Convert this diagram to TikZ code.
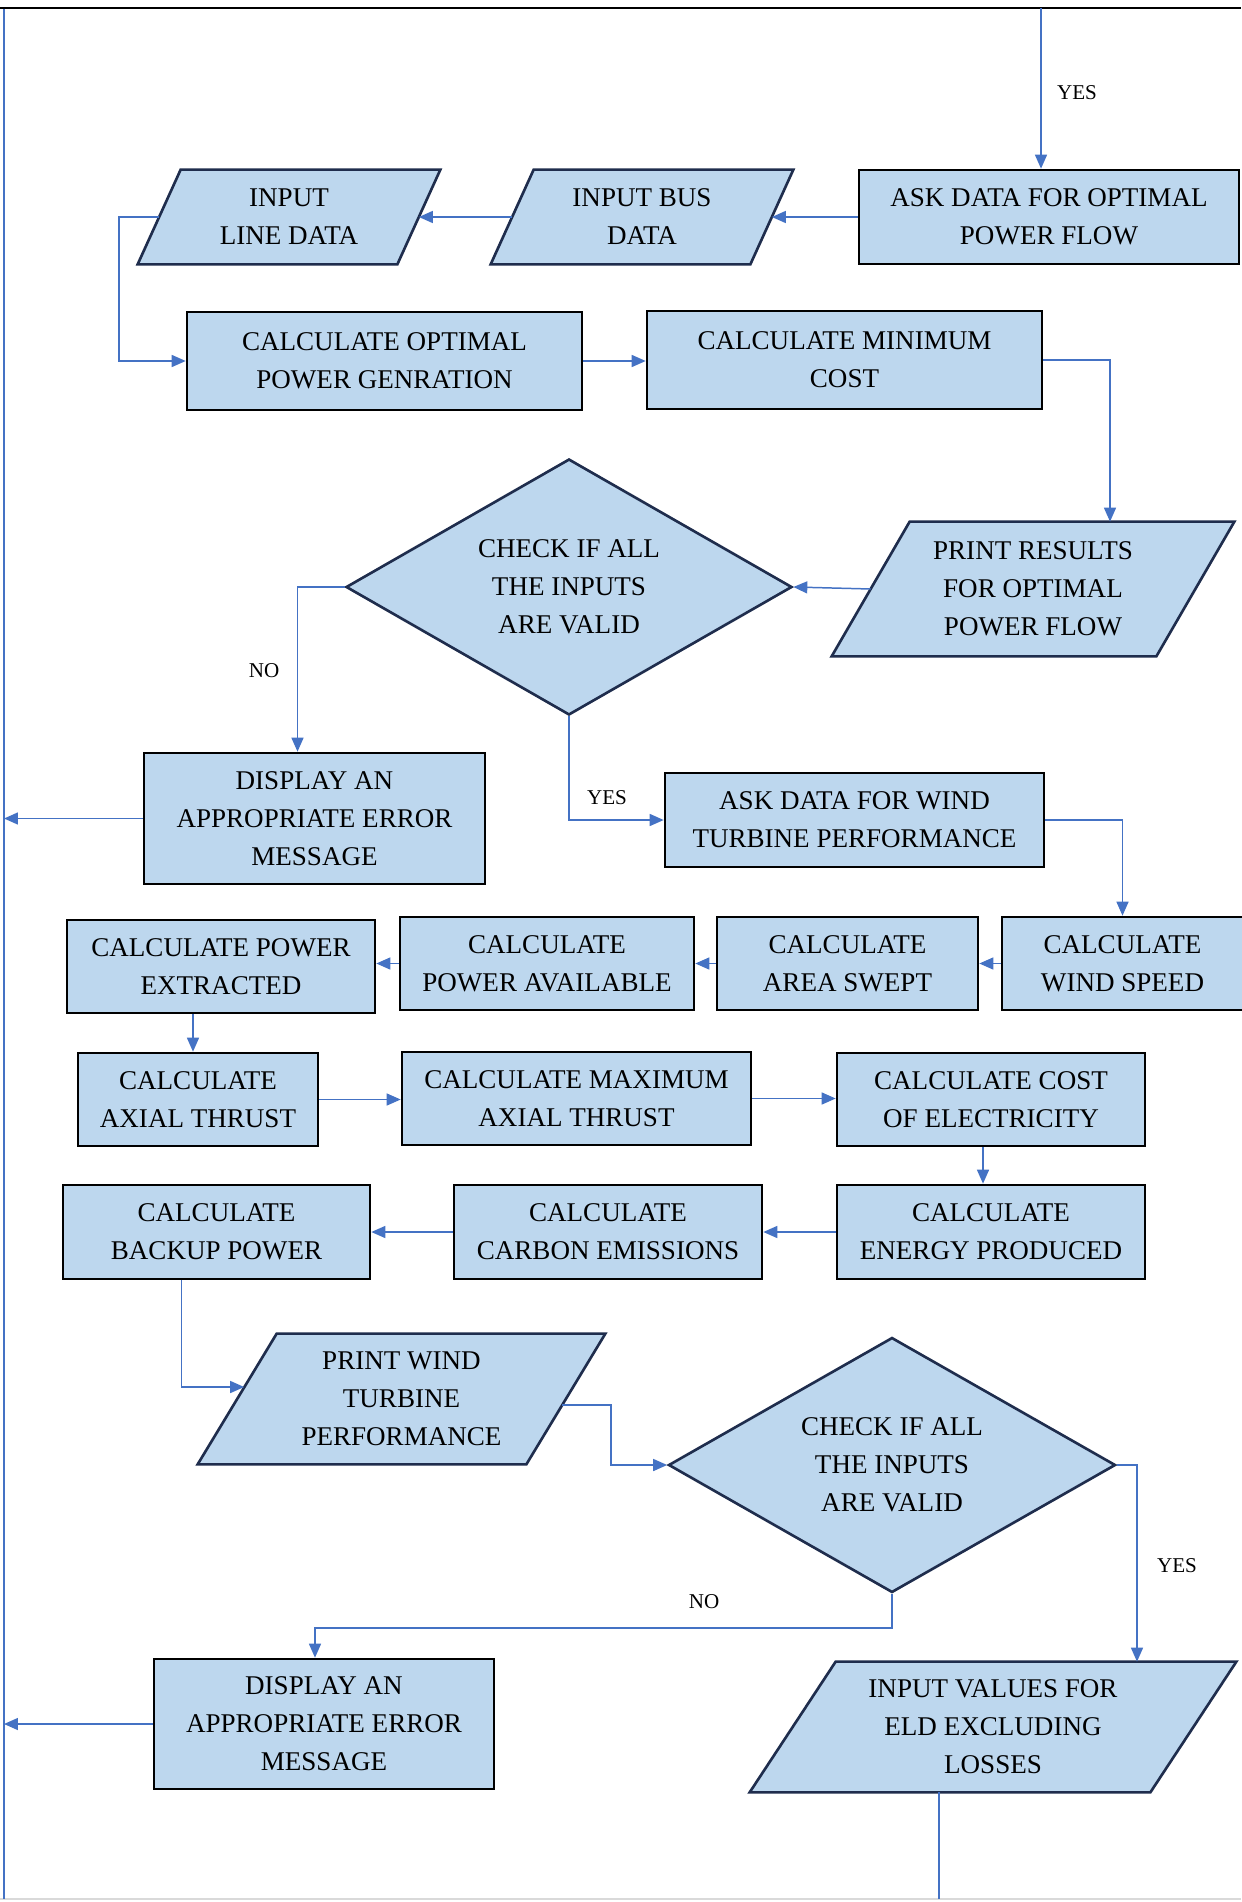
\documentclass[tikz,border=0pt]{standalone}
\usepackage{fontspec}
\setmainfont{Liberation Serif}
\usepackage{xcolor}
\usepackage{tikz}
\usetikzlibrary{shapes,arrows,arrows.meta,positioning,calc,backgrounds}
\definecolor{boxfill}{HTML}{BDD7EE}
\definecolor{boxedge}{HTML}{1F2D4D}
\definecolor{flowblue}{HTML}{4472C4}
\newcommand{\ioshape}[2]{%
  \filldraw[ioline] ($(#1.south west)+(-#2/2,0)$) -- ($(#1.north west)+(#2/2,0)$)
    -- ($(#1.north east)+(#2/2,0)$) -- ($(#1.south east)+(-#2/2,0)$) -- cycle;}

\begin{document}
\begin{tikzpicture}[
    x=0.02cm, y=-0.02cm,
    font=\fontsize{15.4}{21.7}\selectfont,
    sz/.style 2 args={minimum width=#1*0.02cm, minimum height=#2*0.02cm},
    box/.style={rectangle, draw=black, fill=boxfill, line width=1.5pt, inner sep=0pt, align=center},
    io/.style={rectangle, inner sep=0pt, align=center},
    ioline/.style={draw=boxedge, fill=boxfill, line width=1.5pt},
    decision/.style={diamond, aspect=1.74, draw=boxedge, fill=boxfill, line width=1.5pt, inner sep=0pt, align=center},
    arrow/.style={-{Triangle[length=0.28cm, width=0.24cm]}, draw=flowblue, line width=0.85pt},
    flow/.style={draw=flowblue, line width=0.85pt},
    lbl/.style={font=\fontsize{12}{14}\selectfont}
]
    \useasboundingbox (0,0) rectangle (1241,1902);

    \coordinate (tl) at (0,8);
    \coordinate (tr) at (1241,8);
    \coordinate (ltop) at (4,8);
    \coordinate (lbot) at (4,1899);
    \coordinate (bl) at (0,1899);
    \coordinate (br) at (1241,1899);
    \coordinate (start) at (1041,8);

    \draw[gray!30, line width=0.05cm] (bl) -- (br);
    \draw[flow] (ltop) -- (lbot);
    \draw[black, line width=0.054cm] (tl) -- (tr);

    \node[box, sz={380}{94}] (ask1) at (1049,217) {ASK DATA FOR OPTIMAL\\POWER FLOW};
    \node[io, sz={259}{94}] (bus) at (642,217) {INPUT BUS\\DATA};
    \node[io, sz={259}{94}] (line) at (289,217) {INPUT\\LINE DATA};
    \node[box, sz={395}{98}] (optgen) at (384.5,361) {CALCULATE OPTIMAL\\POWER GENRATION};
    \node[box, sz={395}{98}] (mincost) at (844.5,360) {CALCULATE MINIMUM\\COST};
    \node[decision, sz={446}{256}] (chk1) at (569,587) {CHECK IF ALL\\THE INPUTS\\ARE VALID};
    \node[io, sz={324}{134}] (print1) at (1033,589) {PRINT RESULTS\\FOR OPTIMAL\\POWER FLOW};
    \node[box, sz={341}{131}] (err1) at (314.5,818.5) {DISPLAY AN\\APPROPRIATE ERROR\\MESSAGE};
    \node[box, sz={379}{94}] (ask2) at (854.5,820) {ASK DATA FOR WIND\\TURBINE PERFORMANCE};
    \node[box, sz={241}{93}] (speed) at (1122.5,963.5) {CALCULATE\\WIND SPEED};
    \node[box, sz={261}{93}] (swept) at (847.5,963.5) {CALCULATE\\AREA SWEPT};
    \node[box, sz={294}{93}] (avail) at (547,963.5) {CALCULATE\\POWER AVAILABLE};
    \node[box, sz={308}{93}] (extr) at (221,966.5) {CALCULATE POWER\\EXTRACTED};
    \node[box, sz={240}{93}] (axial) at (198,1099.5) {CALCULATE\\AXIAL THRUST};
    \node[box, sz={349}{93}] (maxax) at (576.5,1098.5) {CALCULATE MAXIMUM\\AXIAL THRUST};
    \node[box, sz={308}{93}] (cost) at (991,1099.5) {CALCULATE COST\\OF ELECTRICITY};
    \node[box, sz={308}{94}] (energy) at (991,1232) {CALCULATE\\ENERGY PRODUCED};
    \node[box, sz={308}{94}] (carbon) at (608,1232) {CALCULATE\\CARBON EMISSIONS};
    \node[box, sz={307}{94}] (backup) at (216.5,1232) {CALCULATE\\BACKUP POWER};
    \node[io, sz={328}{130}] (print2) at (401.5,1399) {PRINT WIND\\TURBINE\\PERFORMANCE};
    \node[decision, sz={447}{255}] (chk2) at (892,1465) {CHECK IF ALL\\THE INPUTS\\ARE VALID};
    \node[box, sz={340}{130}] (err2) at (324,1724) {DISPLAY AN\\APPROPRIATE ERROR\\MESSAGE};
    \node[io, sz={400}{130}] (eld) at (993,1727) {INPUT VALUES FOR\\ELD EXCLUDING\\LOSSES};

    \begin{scope}[on background layer]
        \ioshape{bus}{43}
        \ioshape{line}{43}
        \ioshape{print1}{78}
        \ioshape{print2}{79}
        \ioshape{eld}{86}
    \end{scope}

    \node[lbl] (yes1) at (1077,93) {YES};
    \node[lbl] (no1) at (264,671) {NO};
    \node[lbl] (yes2) at (607,798) {YES};
    \node[lbl] (yes3) at (1177,1566) {YES};
    \node[lbl] (no2) at (704,1602) {NO};

    \draw[arrow] (start) -- (start |- ask1.north);
    \draw[arrow] (ask1.west) -- (bus.east);
    \draw[arrow] (bus.west) -- (line.east);
    \draw[arrow] (line.west) -- ++(-40,0) |- (optgen.west);
    \draw[arrow] (optgen.east) -- (optgen.east -| mincost.west);
    \draw[arrow] (mincost.east) -| ($(print1.north)+(77,0)$);
    \draw[arrow] (print1.west) -- (chk1.east);
    \draw[arrow] (chk1.west) -| ($(err1.north)+(-17,0)$);
    \draw[arrow] (chk1.south) |- (ask2.west);
    \draw[arrow] (err1.west) -- (err1.west -| ltop);
    \draw[arrow] (ask2.east) -| (speed.north);
    \draw[arrow] (speed.west) -- (swept.east);
    \draw[arrow] (swept.west) -- (avail.east);
    \draw[arrow] (avail.west) -- (avail.west -| extr.east);
    \draw[arrow] ($(extr.south)+(-28,0)$) coordinate (ea) -- (ea |- axial.north);
    \draw[arrow] (axial.east) -- (axial.east -| maxax.west);
    \draw[arrow] (maxax.east) -- (maxax.east -| cost.west);
    \draw[arrow] ($(cost.south)+(-8,0)$) coordinate (ce) -- (ce |- energy.north);
    \draw[arrow] (energy.west) -- (carbon.east);
    \draw[arrow] (carbon.west) -- (backup.east);
    \draw[arrow] ($(backup.south)+(-35,0)$) |- ($(print2.west)+(7,-12)$);
    \draw[arrow] ($(print2.east)+(-4,6)$) -- ++(49,0) |- (chk2.west);
    \draw[arrow] (chk2.east) -| ($(eld.north)+(144,0)$);
    \draw[arrow] (chk2.south) -- ++(0,34) -| ($(err2.north)+(-9,0)$);
    \draw[arrow] (err2.west) -- (err2.west -| ltop);
    \draw[flow] ($(eld.south)+(-54,0)$) coordinate (eldout) -- (eldout |- lbot);
\end{tikzpicture}
\end{document}
